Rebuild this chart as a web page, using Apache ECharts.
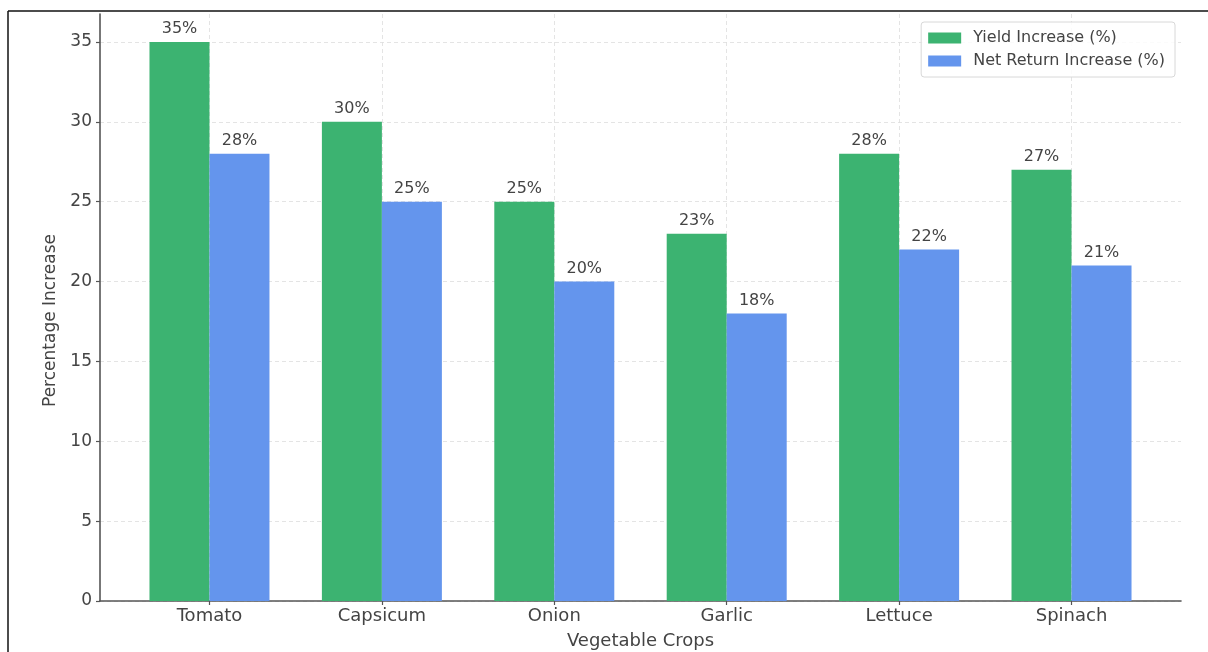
<!DOCTYPE html>
<html>
<head>
<meta charset="utf-8">
<script src="https://cdn.jsdelivr.net/npm/echarts@6/dist/echarts.min.js"></script>
<style>
  html, body { margin: 0; padding: 0; background: #fff; }
  #chart { width: 1208px; height: 652px; }
</style>
</head>
<body>
<div id="chart"></div>
<script>
// Crop categories and their percentage gains
const categories = ['Tomato', 'Capsicum', 'Onion', 'Garlic', 'Lettuce', 'Spinach'];
const yieldIncrease = [35, 30, 25, 23, 28, 27];
const netReturnIncrease = [28, 25, 20, 18, 22, 21];
const yTicks = [0, 5, 10, 15, 20, 25, 30, 35];

const FONT = 'DejaVu Sans';
const catPositions = categories.map((_, i) => i);

const chart = echarts.init(document.getElementById('chart'), null, { renderer: 'canvas' });

function series(name, values, color) {
  return {
    name: name,
    type: 'bar',
    barWidth: 60,
    barGap: '0%',
    data: values.map((v, i) => [i, v]),
    itemStyle: { color: color },
    label: {
      show: true,
      position: 'top',
      distance: 5,
      formatter: p => p.value[1] + '%',
      fontFamily: FONT,
      fontSize: 16,
      color: '#444'
    }
  };
}

chart.setOption({
  backgroundColor: '#fff',
  animation: false,
  grid: { left: 100, right: 27, top: 14, bottom: 51, outerBoundsMode: 'none' },
  legend: {
    orient: 'vertical',
    right: 33,
    top: 22,
    padding: [8, 10, 8, 7],
    itemWidth: 33,
    itemHeight: 11,
    itemGap: 7,
    borderColor: '#d8d8d8',
    borderWidth: 1,
    borderRadius: 3,
    backgroundColor: 'rgba(255,255,255,0.85)',
    icon: 'rect',
    textStyle: { fontFamily: FONT, fontSize: 16, color: '#444', padding: [0, 0, 0, 7] },
    data: ['Yield Increase (%)', 'Net Return Increase (%)']
  },
  xAxis: {
    type: 'value',
    min: -0.635,
    max: 5.635,
    name: 'Vegetable Crops',
    nameLocation: 'middle',
    nameGap: 31,
    nameTextStyle: { fontFamily: FONT, fontSize: 18, color: '#444' },
    axisLine: { show: true, onZero: false, lineStyle: { color: '#555', width: 1.6 } },
    axisTick: { show: true, customValues: catPositions, length: 4, lineStyle: { color: '#555', width: 1.2 } },
    axisLabel: {
      customValues: catPositions,
      formatter: v => categories[Math.round(v)] || '',
      fontFamily: FONT, fontSize: 18, color: '#444', margin: 6
    },
    splitLine: { show: true, lineStyle: { color: '#ddd', type: [4, 3], width: 0.8 } }
  },
  yAxis: {
    type: 'value',
    min: 0,
    max: 36.75,
    name: 'Percentage Increase',
    nameLocation: 'middle',
    nameGap: 40,
    nameTextStyle: { fontFamily: FONT, fontSize: 17, color: '#444', padding: [0, 26, 0, 0] },
    axisLine: { show: true, onZero: false, lineStyle: { color: '#555', width: 1.6 } },
    axisTick: { show: true, customValues: yTicks, length: 4, lineStyle: { color: '#555', width: 1.2 } },
    axisLabel: {
      customValues: yTicks,
      fontFamily: FONT, fontSize: 17, color: '#444', margin: 8
    },
    splitLine: { show: true, lineStyle: { color: '#ddd', type: [4, 3], width: 0.8 } }
  },
  series: [
    series('Yield Increase (%)', yieldIncrease, '#3CB371'),
    series('Net Return Increase (%)', netReturnIncrease, '#6495ED')
  ],
  graphic: [
    { type: 'line', shape: { x1: 8, y1: 11, x2: 1208, y2: 11 }, style: { stroke: '#111', lineWidth: 1.5 } },
    { type: 'line', shape: { x1: 8, y1: 11, x2: 8, y2: 652 }, style: { stroke: '#111', lineWidth: 1.5 } }
  ]
});
</script>
</body>
</html>
